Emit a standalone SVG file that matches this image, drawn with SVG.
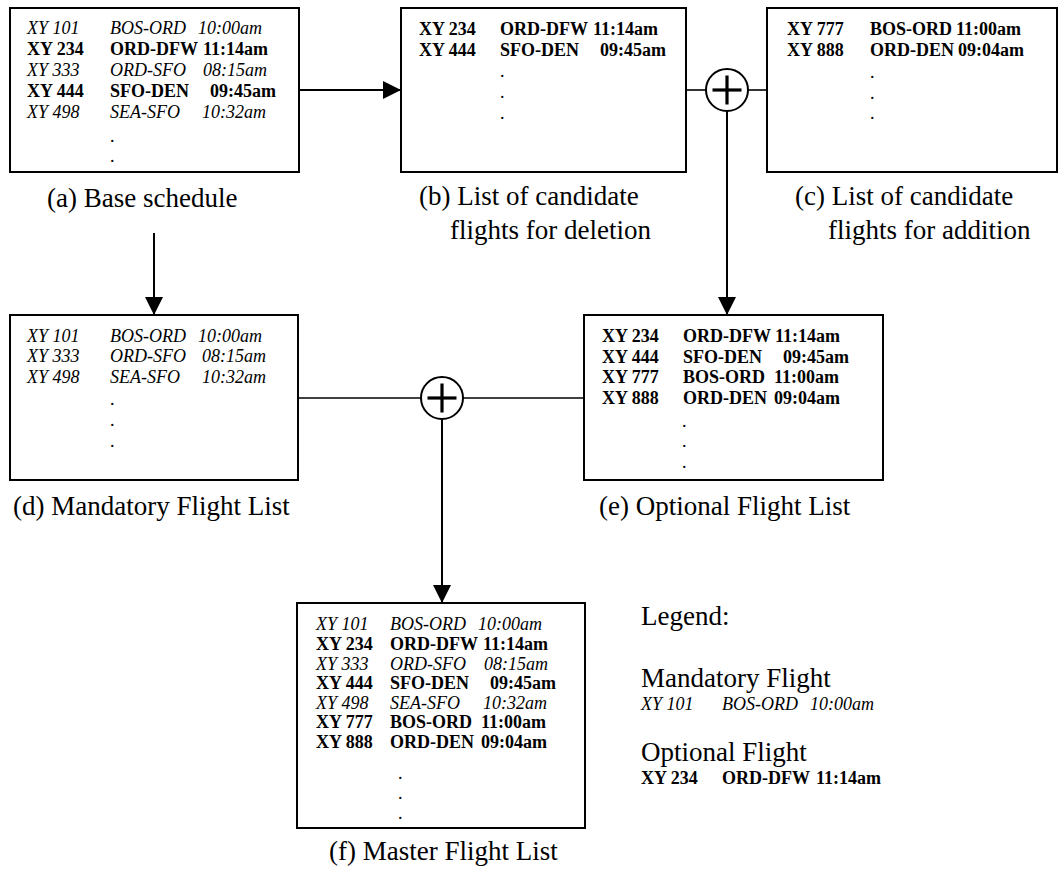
<svg xmlns="http://www.w3.org/2000/svg" width="1062" height="873" viewBox="0 0 1062 873">
<defs>
<style>
text{font-family:"Liberation Serif","Times New Roman",serif;fill:#000}
.m{font-size:18px;font-style:italic}
.o{font-size:18px;font-weight:bold}
.d{font-size:18px}
.lbl{font-size:27px}
.box{fill:#fff;stroke:#000;stroke-width:2}
.ln{fill:none;stroke:#000;stroke-width:1.6}
.ar{fill:none;stroke:#000;stroke-width:2}
.cir{fill:#fff;stroke:#000;stroke-width:2}
.plus{stroke:#000;stroke-width:3.2}
</style>
<marker id="ah" viewBox="0 0 18 18" refX="18" refY="9" markerWidth="18" markerHeight="18" markerUnits="userSpaceOnUse" orient="auto">
<path d="M0,0 L18,9 L0,18 z" fill="#000"/>
</marker>
</defs>
<rect width="1062" height="873" fill="#fff"/>

<g id="connectors">
<line class="ar" x1="299" y1="90" x2="401" y2="90" marker-end="url(#ah)"/>
<line class="ln" x1="686" y1="90" x2="706" y2="90"/>
<line class="ln" x1="748" y1="90" x2="767" y2="90"/>
<line class="ar" x1="727" y1="111" x2="727" y2="315" marker-end="url(#ah)"/>
<line class="ar" x1="154" y1="233" x2="154" y2="315" marker-end="url(#ah)"/>
<line class="ln" x1="298" y1="398" x2="421" y2="398"/>
<line class="ln" x1="463" y1="398" x2="584" y2="398"/>
<line class="ar" x1="442" y1="419" x2="442" y2="603" marker-end="url(#ah)"/>
</g>

<g id="plus-top">
<circle class="cir" cx="727" cy="90" r="21"/>
<line class="plus" x1="712.5" y1="90" x2="741.5" y2="90"/>
<line class="plus" x1="727" y1="75.5" x2="727" y2="104.5"/>
</g>
<g id="plus-bottom">
<circle class="cir" cx="442" cy="398" r="21"/>
<line class="plus" x1="427.5" y1="398" x2="456.5" y2="398"/>
<line class="plus" x1="442" y1="383.5" x2="442" y2="412.5"/>
</g>

<g id="node-a">
<rect class="box" x="10" y="8" width="289" height="164"/>
<text class="m" x="27" y="34">XY 101</text><text class="m" x="110" y="34">BOS-ORD</text><text class="m" x="198" y="34">10:00am</text>
<text class="o" x="27" y="55">XY 234</text><text class="o" x="110" y="55">ORD-DFW</text><text class="o" x="203" y="55">11:14am</text>
<text class="m" x="27" y="76">XY 333</text><text class="m" x="110" y="76">ORD-SFO</text><text class="m" x="203" y="76">08:15am</text>
<text class="o" x="27" y="97">XY 444</text><text class="o" x="110" y="97">SFO-DEN</text><text class="o" x="210" y="97">09:45am</text>
<text class="m" x="27" y="118">XY 498</text><text class="m" x="110" y="118">SEA-SFO</text><text class="m" x="202" y="118">10:32am</text>
<text class="d" x="110" y="141.5">.</text>
<text class="d" x="110" y="161.5">.</text>
<text class="lbl" x="47" y="207">(a) Base schedule</text>
</g>

<g id="node-b">
<rect class="box" x="401" y="8" width="285" height="164"/>
<text class="o" x="419" y="35">XY 234</text><text class="o" x="500" y="35">ORD-DFW</text><text class="o" x="593" y="35">11:14am</text>
<text class="o" x="419" y="56">XY 444</text><text class="o" x="500" y="56">SFO-DEN</text><text class="o" x="600" y="56">09:45am</text>
<text class="d" x="500" y="76.5">.</text>
<text class="d" x="500" y="97.5">.</text>
<text class="d" x="500" y="118.5">.</text>
<text class="lbl" x="419" y="205">(b) List of candidate</text>
<text class="lbl" x="450" y="239">flights for deletion</text>
</g>

<g id="node-c">
<rect class="box" x="767" y="8" width="290" height="164"/>
<text class="o" x="787" y="35">XY 777</text><text class="o" x="870" y="35">BOS-ORD</text><text class="o" x="956" y="35">11:00am</text>
<text class="o" x="787" y="56">XY 888</text><text class="o" x="870" y="56">ORD-DEN</text><text class="o" x="958" y="56">09:04am</text>
<text class="d" x="870" y="77.5">.</text>
<text class="d" x="870" y="98.5">.</text>
<text class="d" x="870" y="118.5">.</text>
<text class="lbl" x="795" y="205">(c) List of candidate</text>
<text class="lbl" x="828" y="239">flights for addition</text>
</g>

<g id="node-d">
<rect class="box" x="10" y="315" width="288" height="165"/>
<text class="m" x="27" y="342">XY 101</text><text class="m" x="110" y="342">BOS-ORD</text><text class="m" x="198" y="342">10:00am</text>
<text class="m" x="27" y="362">XY 333</text><text class="m" x="110" y="362">ORD-SFO</text><text class="m" x="202" y="362">08:15am</text>
<text class="m" x="27" y="383">XY 498</text><text class="m" x="110" y="383">SEA-SFO</text><text class="m" x="202" y="383">10:32am</text>
<text class="d" x="110" y="405">.</text>
<text class="d" x="110" y="425.5">.</text>
<text class="d" x="110" y="446.5">.</text>
<text class="lbl" x="13" y="515">(d) Mandatory Flight List</text>
</g>

<g id="node-e">
<rect class="box" x="584" y="315" width="299" height="165"/>
<text class="o" x="602" y="342">XY 234</text><text class="o" x="683" y="342">ORD-DFW</text><text class="o" x="775" y="342">11:14am</text>
<text class="o" x="602" y="362.5">XY 444</text><text class="o" x="683" y="362.5">SFO-DEN</text><text class="o" x="783" y="362.5">09:45am</text>
<text class="o" x="602" y="383">XY 777</text><text class="o" x="683" y="383">BOS-ORD</text><text class="o" x="774" y="383">11:00am</text>
<text class="o" x="602" y="404">XY 888</text><text class="o" x="683" y="404">ORD-DEN</text><text class="o" x="774" y="404">09:04am</text>
<text class="d" x="682" y="426.5">.</text>
<text class="d" x="682" y="446.5">.</text>
<text class="d" x="682" y="467.5">.</text>
<text class="lbl" x="599" y="515">(e) Optional Flight List</text>
</g>

<g id="node-f">
<rect class="box" x="297" y="603" width="288" height="225"/>
<text class="m" x="316" y="630">XY 101</text><text class="m" x="390" y="630">BOS-ORD</text><text class="m" x="478" y="630">10:00am</text>
<text class="o" x="316" y="649.5">XY 234</text><text class="o" x="390" y="649.5">ORD-DFW</text><text class="o" x="483" y="649.5">11:14am</text>
<text class="m" x="316" y="669.5">XY 333</text><text class="m" x="390" y="669.5">ORD-SFO</text><text class="m" x="484" y="669.5">08:15am</text>
<text class="o" x="316" y="689">XY 444</text><text class="o" x="390" y="689">SFO-DEN</text><text class="o" x="490" y="689">09:45am</text>
<text class="m" x="316" y="708.5">XY 498</text><text class="m" x="390" y="708.5">SEA-SFO</text><text class="m" x="483" y="708.5">10:32am</text>
<text class="o" x="316" y="728">XY 777</text><text class="o" x="390" y="728">BOS-ORD</text><text class="o" x="481" y="728">11:00am</text>
<text class="o" x="316" y="748">XY 888</text><text class="o" x="390" y="748">ORD-DEN</text><text class="o" x="481" y="748">09:04am</text>
<text class="d" x="398" y="778.5">.</text>
<text class="d" x="398" y="798.5">.</text>
<text class="d" x="398" y="818.5">.</text>
<text class="lbl" x="329" y="860">(f) Master Flight List</text>
</g>

<g id="legend">
<text class="lbl" x="641" y="625">Legend:</text>
<text class="lbl" x="641" y="687">Mandatory Flight</text>
<text class="m" x="641" y="710">XY 101</text><text class="m" x="722" y="710">BOS-ORD</text><text class="m" x="810" y="710">10:00am</text>
<text class="lbl" x="641" y="761">Optional Flight</text>
<text class="o" x="641" y="784">XY 234</text><text class="o" x="722" y="784">ORD-DFW</text><text class="o" x="816" y="784">11:14am</text>
</g>
</svg>
